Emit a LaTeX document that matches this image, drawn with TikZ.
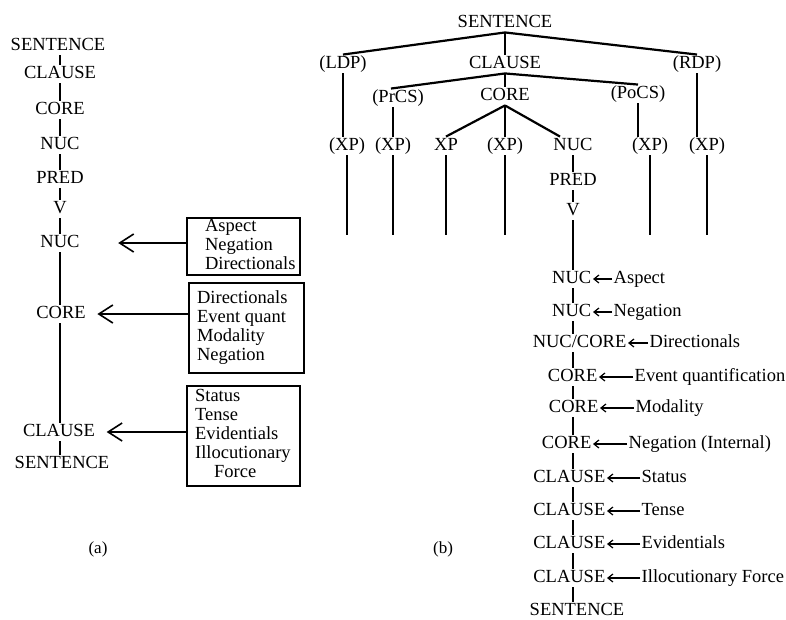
\documentclass[tikz,border=0pt]{standalone}
\usepackage{fontspec}
\setmainfont{Liberation Serif}
\usepackage{tikz}
\usetikzlibrary{positioning,arrows.meta}
\tikzset{
  node-lbl/.style={inner xsep=1.5pt,inner ysep=1.5pt,text height=12.5pt,text depth=3pt},
  node-opbox/.style={draw,line width=2.2pt,inner sep=0pt,anchor=north west},
  node-cap/.style={font=\fontsize{17}{19}\selectfont},
  line-tree/.style={line width=2.2pt},
  line-a/.style={line width=1.6pt},
  arrow-big/.style={-{Straight Barb[length=14pt,width=18pt]},line width=1.6pt},
  arrow-op/.style={-{Straight Barb[length=5pt,width=8pt]},line width=1.2pt},
}

\begin{document}
\begin{tikzpicture}[x=1pt,y=-1pt,font=\fontsize{18.5}{19}\selectfont]
  \useasboundingbox (0,0) rectangle (786,619);

  % (a) layered view with operator boxes
  \node[node-lbl] (sent-a1) at (58,46) {SENTENCE};
  \node[node-lbl] (clause-a1) at (60,74) {CLAUSE};
  \node[node-lbl] (core-a1) at (60,110) {CORE};
  \node[node-lbl] (nuc-a1) at (60,145) {NUC};
  \node[node-lbl] (pred-a) at (60,179) {PRED};
  \node[node-lbl] (v-a) at (60,209) {V};
  \node[node-lbl] (nuc-a2) at (60,243) {NUC};
  \node[node-lbl] (core-a2) at (61,314) {CORE};
  \node[node-lbl] (clause-a2) at (59,432) {CLAUSE};
  \node[node-lbl] (sent-a2) at (62,464) {SENTENCE};
  \foreach \a/\b in {sent-a1/clause-a1,clause-a1/core-a1,core-a1/nuc-a1,nuc-a1/pred-a,
      pred-a/v-a,v-a/nuc-a2,nuc-a2/core-a2,core-a2/clause-a2,clause-a2/sent-a2}
    \draw[line-a] (\a.south -| v-a) -- (\b.north -| v-a);

  \node[node-opbox,minimum width=113pt,minimum height=55pt] (ops-nuc) at (186,217)
    {\begin{tabular}{@{\hspace{18pt}}p{95pt}@{}}Aspect\\Negation\\Directionals\end{tabular}};
  \node[node-opbox,minimum width=115pt,minimum height=90pt] (ops-core) at (188,282)
    {\begin{tabular}{@{\hspace{8pt}}p{107pt}@{}}Directionals\\Event quant\\Modality\\Negation\end{tabular}};
  \node[node-opbox,minimum width=113pt,minimum height=100pt] (ops-clause) at (186,385)
    {\begin{tabular}{@{\hspace{8pt}}p{105pt}@{}}Status\\Tense\\Evidentials\\Illocutionary\\\hspace*{19pt}Force\end{tabular}};
  \draw[arrow-big,shorten >=37pt] (nuc-a2.east -| ops-nuc.west) -- (nuc-a2.east);
  \draw[arrow-big,shorten >=10pt] (core-a2.east -| ops-core.west) -- (core-a2.east);
  \draw[arrow-big,shorten >=10pt] (clause-a2.east -| ops-clause.west) -- (clause-a2.east);

  \node[node-cap] (cap-a) at (98,549) {(a)};

  % (b) tree with operator projection
  \node[node-lbl] (sent-b) at (505,23) {SENTENCE};
  \node[node-lbl] (ldp) at (343,64) {(LDP)};
  \node[node-lbl] (clause-b) at (505,64) {CLAUSE};
  \node[node-lbl] (rdp) at (697,64) {(RDP)};
  \node[node-lbl] (prcs) at (398,98) {(PrCS)};
  \node[node-lbl] (core-b) at (505,96) {CORE};
  \node[node-lbl] (pocs) at (638,94) {(PoCS)};
  \node[node-lbl] (xp1) at (347,146) {(XP)};
  \node[node-lbl] (xp2) at (393,146) {(XP)};
  \node[node-lbl] (xp3) at (446,146) {XP};
  \node[node-lbl] (xp4) at (505,146) {(XP)};
  \node[node-lbl] (nuc-b) at (573,146) {NUC};
  \node[node-lbl] (xp5) at (650,146) {(XP)};
  \node[node-lbl] (xp6) at (707,146) {(XP)};
  \node[node-lbl] (pred-b) at (573,181) {PRED};
  \node[node-lbl] (v-b) at (573,211) {V};
  \coordinate (base) at (0,235);

  \draw[line-tree] (sent-b.south) -- (ldp.north);
  \draw[line-tree] (sent-b.south) -- (clause-b.north);
  \draw[line-tree] (sent-b.south) -- (rdp.north);
  \draw[line-tree] (clause-b.south) -- ([xshift=-7pt]prcs.north);
  \draw[line-tree] (clause-b.south) -- (core-b.north);
  \draw[line-tree] (clause-b.south) -- (pocs.north);
  \draw[line-tree] (core-b.south) -- (xp3.north);
  \draw[line-tree] (core-b.south) -- (xp4.north);
  \draw[line-tree] (core-b.south) -- ([xshift=-13pt]nuc-b.north);
  \draw[line-tree] (ldp.south) -- (ldp.south |- xp1.north);
  \draw[line-tree] (prcs.south -| xp2) -- (xp2.north);
  \draw[line-tree] (pocs.south) -- (pocs.south |- xp5.north);
  \draw[line-tree] (rdp.south) -- (rdp.south |- xp6.north);
  \foreach \n in {xp1,xp2,xp3,xp4,xp5,xp6}
    \draw[line-tree] (\n.south) -- (\n.south |- base);
  \draw[line-tree] (nuc-b) -- (pred-b);
  \draw[line-tree] (pred-b) -- (v-b);

  \node[node-lbl,anchor=east] (lay1) at (593,279) {NUC};
  \node[node-lbl,anchor=west] (op1) at (612,279) {Aspect};
  \node[node-lbl,anchor=east] (lay2) at (593,312) {NUC};
  \node[node-lbl,anchor=west] (op2) at (612,312) {Negation};
  \node[node-lbl,anchor=east] (lay3) at (628,343) {NUC/CORE};
  \node[node-lbl,anchor=west] (op3) at (648,343) {Directionals};
  \node[node-lbl,anchor=east] (lay4) at (599,377) {CORE};
  \node[node-lbl,anchor=west] (op4) at (633,377) {Event quantification};
  \node[node-lbl,anchor=east] (lay5) at (600,408) {CORE};
  \node[node-lbl,anchor=west] (op5) at (634,408) {Modality};
  \node[node-lbl,anchor=east] (lay6) at (593,444) {CORE};
  \node[node-lbl,anchor=west] (op6) at (627,444) {Negation (Internal)};
  \node[node-lbl,anchor=east] (lay7) at (607,478) {CLAUSE};
  \node[node-lbl,anchor=west] (op7) at (640,478) {Status};
  \node[node-lbl,anchor=east] (lay8) at (607,511) {CLAUSE};
  \node[node-lbl,anchor=west] (op8) at (640,511) {Tense};
  \node[node-lbl,anchor=east] (lay9) at (607,544) {CLAUSE};
  \node[node-lbl,anchor=west] (op9) at (640,544) {Evidentials};
  \node[node-lbl,anchor=east] (lay10) at (607,578) {CLAUSE};
  \node[node-lbl,anchor=west] (op10) at (640,578) {Illocutionary Force};
  \node[node-lbl] (sent-b2) at (577,611) {SENTENCE};

  \foreach \i in {1,...,10}
    \draw[arrow-op] (op\i.west) -- (lay\i.east);
  \foreach \a/\b in {v-b/lay1,lay1/lay2,lay2/lay3,lay3/lay4,lay4/lay5,lay5/lay6,
      lay6/lay7,lay7/lay8,lay8/lay9,lay9/lay10,lay10/sent-b2}
    \draw[line-tree] (\a.south -| v-b) -- (\b.north -| v-b);

  \node[node-cap] (cap-b) at (443,549) {(b)};
\end{tikzpicture}
\end{document}
